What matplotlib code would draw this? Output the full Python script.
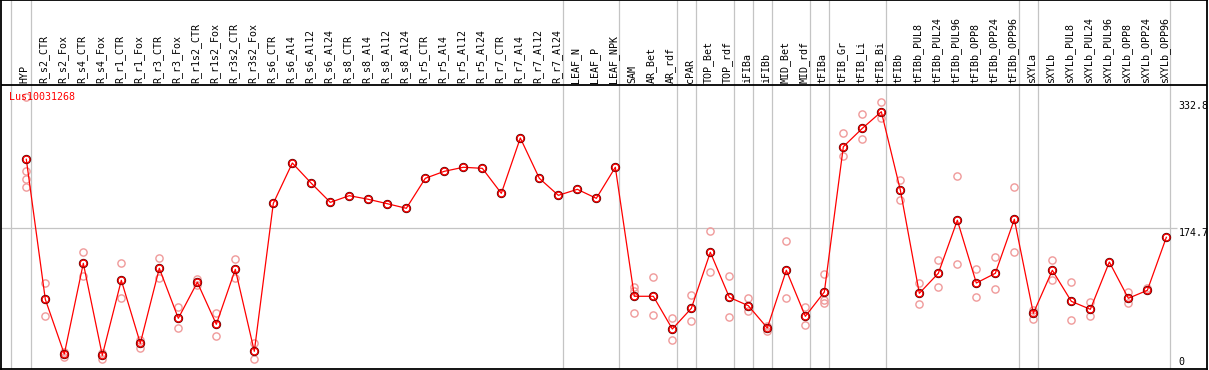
import matplotlib
matplotlib.use("Agg")
import matplotlib.pyplot as plt

# sample names (one column each)
samples = [
    "HYP",
    "R_s2_CTR", "R_s2_Fox", "R_s4_CTR", "R_s4_Fox", "R_r1_CTR", "R_r1_Fox",
    "R_r3_CTR", "R_r3_Fox", "R_r1s2_CTR", "R_r1s2_Fox", "R_r3s2_CTR", "R_r3s2_Fox",
    "R_s6_CTR", "R_s6_Al4", "R_s6_Al12", "R_s6_Al24",
    "R_s8_CTR", "R_s8_Al4", "R_s8_Al12", "R_s8_Al24",
    "R_r5_CTR", "R_r5_Al4", "R_r5_Al12", "R_r5_Al24",
    "R_r7_CTR", "R_r7_Al4", "R_r7_Al12", "R_r7_Al24",
    "LEAF_N", "LEAF_P", "LEAF_NPK",
    "SAM", "AR_Bet", "AR_rdf", "cPAR", "TOP_Bet", "TOP_rdf", "iFIBa", "iFIBb",
    "MID_Bet", "MID_rdf", "tFIBa", "tFIB_Gr", "tFIB_Li", "tFIB_Bi", "tFIBb",
    "tFIBb_PUL8", "tFIBb_PUL24", "tFIBb_PUL96", "tFIBb_OPP8", "tFIBb_OPP24", "tFIBb_OPP96",
    "sXYLa", "sXYLb",
    "sXYLb_PUL8", "sXYLb_PUL24", "sXYLb_PUL96", "sXYLb_OPP8", "sXYLb_OPP24", "sXYLb_OPP96",
]

# mean expression per sample
means = [
    260.1,
    86.0, 18.0, 130.8, 16.4, 109.7, 31.3, 124.6, 62.4, 107.2, 55.0, 123.3, 21.4,
    205.4, 255.5, 230.3, 206.6,
    214.9, 210.4, 204.9, 199.2,
    236.5, 245.2, 250.2, 248.9,
    217.8, 286.6, 236.5, 215.3,
    222.8, 211.6, 250.2,
    89.8, 89.8, 49.1, 74.8, 144.5, 88.5, 78.1, 50.4,
    122.1, 64.9, 95.1, 275.8, 298.6, 319.3, 221.9,
    93.5, 118.4, 184.3, 106.3, 118.4, 185.5,
    68.6, 122.1,
    83.5, 73.6, 132.4, 87.3, 97.2, 163.1,
]

# individual replicates (empty where they sit under the mean)
replicates = [
    [337.0, 245.6, 235.2, 225.3],
    [105.9, 64.9], [20.5, 14.7], [144.5, 115.4], [18.9, 11.4], [131.2, 87.3], [35.4, 25.9],
    [137.0, 112.1], [76.1, 50.0], [111.3, 103.8], [68.6, 40.8], [136.1, 112.1], [31.3, 11.4],
    [], [], [], [],
    [], [], [], [],
    [], [], [], [],
    [], [], [], [],
    [], [], [],
    [101.0, 96.0, 69.0], [113.4, 66.1], [62.4, 35.1], [91.4, 59.1], [170.6, 119.6],
    [114.6, 63.7], [87.3, 71.1], [52.8, 46.2],
    [158.1, 87.3], [76.1, 53.7], [117.1, 84.8, 81.0], [292.4, 264.6], [316.4, 285.7],
    [331.0, 311.5], [234.4, 209.5],
    [106.3, 79.8], [134.5, 101.0], [239.0, 129.6], [123.3, 88.5], [138.3, 98.5], [225.3, 144.5],
    [72.4, 61.2], [134.5, 109.7],
    [107.2, 60.3], [82.7, 65.6], [], [94.7, 81.8], [100.1], [],
]

# group separators (between columns)
separators = [-0.82, 0.23, 28.23, 31.21, 34.23, 35.23, 37.23, 38.23, 39.23,
              41.23, 42.23, 45.23, 52.23, 53.23, 60.19]

y_max = 332.8
y_mid = 174.7
gene = "Lus10031268"

MONO = "DejaVu Sans Mono"
FS = 7.2

fig = plt.figure(figsize=(12.09, 3.70), dpi=100)
ax = fig.add_axes([1 / 1209, 1 / 370, 1206 / 1209, 369 / 370])
ax.set_xlim(-1.332, 62.14)
ax.set_ylim(-0.62, 458.2)
ax.set_xticks([])
ax.set_yticks([])
for sp in ax.spines.values():
    sp.set_color("black")
    sp.set_linewidth(1.3)

header_y = 352.5
ax.axhline(header_y, color="black", lw=1.3, zorder=3)

for s in separators:
    ax.axvline(s, color="#c4c4c4", lw=0.9, zorder=1)
ax.hlines(y_mid, -1.332, 60.56, color="#c4c4c4", lw=0.9, zorder=1)

x = list(range(len(samples)))

# replicates
rx, ry = [], []
for i, reps in enumerate(replicates):
    for v in reps:
        rx.append(i)
        ry.append(v)
ax.plot(rx, ry, "o", ms=5.2, mfc="none", mec="#ef9a9a", mew=1.0,
        linestyle="none", zorder=2)

# mean line
ax.plot(x, means, "-", color="red", lw=0.9, zorder=4)
ax.plot(x, means, "o", ms=5.6, mfc="none", mec="#400000", mew=1.1,
        linestyle="none", zorder=5)
ax.plot(x, means, "o", ms=5.0, mfc="none", mec="red", mew=0.9,
        linestyle="none", zorder=6)

# column labels
for i, name in enumerate(samples):
    ax.text(i - 0.08, 354.6, name, rotation=90, ha="center", va="bottom",
            fontsize=FS, family=MONO, color="black")

ax.text(-0.895, 337.6, gene, ha="left", va="center", fontsize=FS,
        family=MONO, color="red", zorder=7)

# scale labels on the right
ax.text(60.65, y_max, f"{y_max}", ha="left", va="top", fontsize=FS, family=MONO)
ax.text(60.65, y_mid, f"{y_mid}", ha="left", va="top", fontsize=FS, family=MONO)
ax.text(60.65, 8.1, "0", ha="left", va="center", fontsize=FS, family=MONO)

fig.savefig("out.png", dpi=100)
